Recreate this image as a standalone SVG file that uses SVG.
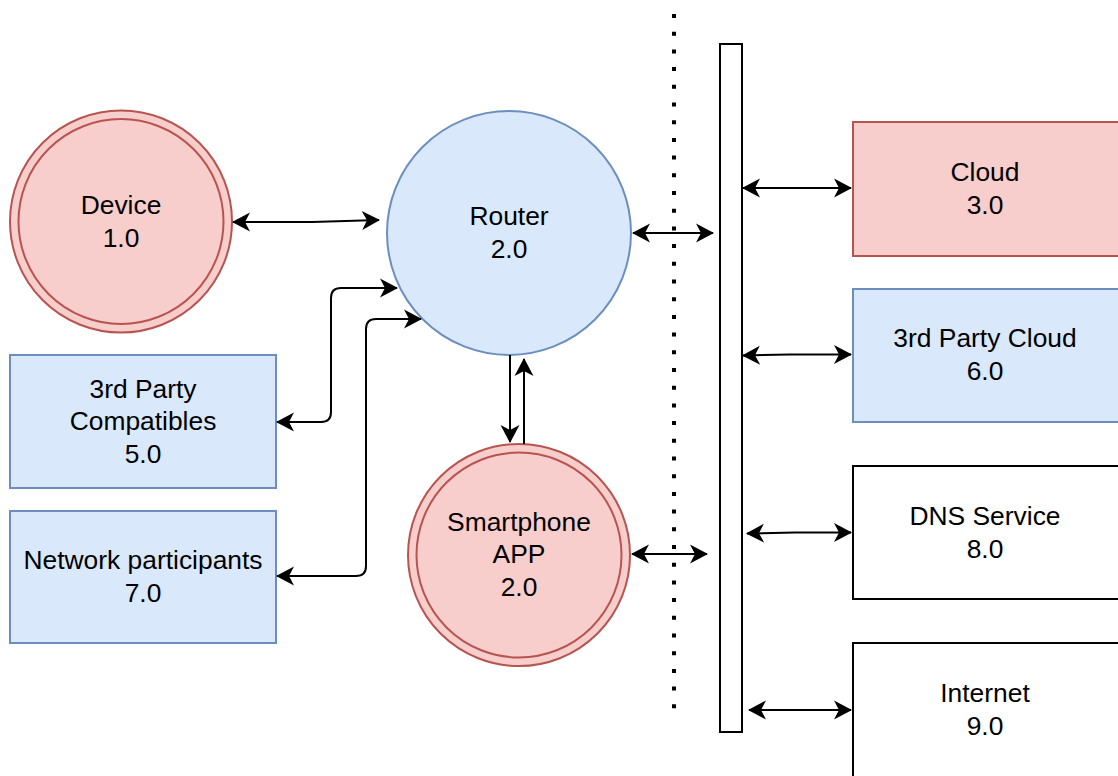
<svg xmlns="http://www.w3.org/2000/svg" width="1118" height="776" viewBox="0 0 1118 776">
  <style>
    .lbl { font-family: "Liberation Sans", Arial, sans-serif; font-size: 26.4px; fill: #000; text-anchor: middle; }
    .red { fill: #f8cecc; stroke: #b85450; stroke-width: 2; }
    .blue { fill: #dae8fc; stroke: #6c8ebf; stroke-width: 2; }
    .plain { fill: #ffffff; stroke: #000000; stroke-width: 2; }
    .edge { fill: none; stroke: #000; stroke-width: 2; marker-end: url(#arr); }
    .both { marker-start: url(#arr); }
  </style>
  <defs>
    <marker id="arr" markerUnits="userSpaceOnUse" refX="0" refY="0" markerWidth="40" markerHeight="40" orient="auto-start-reverse" overflow="visible">
      <path d="M1,0 L-17,-9.5 L-12,0 L-17,9.5 Z" fill="#000"/>
    </marker>
  </defs>
  <rect width="1118" height="776" fill="#ffffff"/>

  <!-- trust boundary -->
  <line x1="674" y1="14" x2="674" y2="712" stroke="#000" stroke-width="4" stroke-dasharray="4 13.7"/>

  <!-- bus bar -->
  <g id="bus">
    <rect x="720" y="44" width="22" height="688" class="plain"/>
  </g>

  <g id="device">
    <circle cx="121" cy="221.5" r="111" class="red"/>
    <circle cx="121" cy="221.5" r="102.5" class="red"/>
    <text class="lbl" x="121" y="214">Device</text>
    <text class="lbl" x="121" y="247">1.0</text>
  </g>

  <g id="router">
    <circle cx="509" cy="233" r="122" class="blue"/>
    <text class="lbl" x="509" y="225">Router</text>
    <text class="lbl" x="509" y="258">2.0</text>
  </g>

  <g id="smartphone">
    <circle cx="519" cy="555" r="111" class="red"/>
    <circle cx="519" cy="555" r="102.5" class="red"/>
    <text class="lbl" x="519" y="531">Smartphone</text>
    <text class="lbl" x="519" y="563">APP</text>
    <text class="lbl" x="519" y="596">2.0</text>
  </g>

  <g id="compatibles">
    <rect x="10" y="355" width="266" height="133" class="blue"/>
    <text class="lbl" x="143" y="398">3rd Party</text>
    <text class="lbl" x="143" y="430">Compatibles</text>
    <text class="lbl" x="143" y="463">5.0</text>
  </g>

  <g id="participants">
    <rect x="10" y="511" width="266" height="132" class="blue"/>
    <text class="lbl" x="143" y="569">Network participants</text>
    <text class="lbl" x="143" y="602">7.0</text>
  </g>

  <g id="cloud">
    <rect x="853" y="122" width="267" height="134" class="red"/>
    <text class="lbl" x="985" y="181">Cloud</text>
    <text class="lbl" x="985" y="214">3.0</text>
  </g>

  <g id="third-party-cloud">
    <rect x="853" y="289" width="267" height="133" class="blue"/>
    <text class="lbl" x="985" y="347">3rd Party Cloud</text>
    <text class="lbl" x="985" y="380">6.0</text>
  </g>

  <g id="dns">
    <rect x="853" y="466" width="267" height="133" class="plain"/>
    <text class="lbl" x="985" y="525">DNS Service</text>
    <text class="lbl" x="985" y="558">8.0</text>
  </g>

  <g id="internet">
    <rect x="853" y="643" width="267" height="140" class="plain"/>
    <text class="lbl" x="985" y="702">Internet</text>
    <text class="lbl" x="985" y="735">9.0</text>
  </g>

  <g id="connectors">
    <path class="edge both" d="M233,222 H312 L379,220"/>
    <path class="edge both" d="M277,422 H321 Q331,422 331,412 V298 Q331,288 341,288 H397"/>
    <path class="edge both" d="M277,576 H356 Q366,576 366,566 V329 Q366,319 376,319 H421"/>
    <path class="edge" d="M510,355 V442"/>
    <path class="edge" d="M524,444 V359"/>
    <path class="edge both" d="M633,233 H713"/>
    <path class="edge both" d="M632,554 H707"/>
    <path class="edge both" d="M743,188 H851"/>
    <path class="edge both" d="M743,355.5 L790,354.5 H851"/>
    <path class="edge both" d="M747,533.5 L795,532.5 H851"/>
    <path class="edge both" d="M749,710 H851"/>
  </g>
</svg>
